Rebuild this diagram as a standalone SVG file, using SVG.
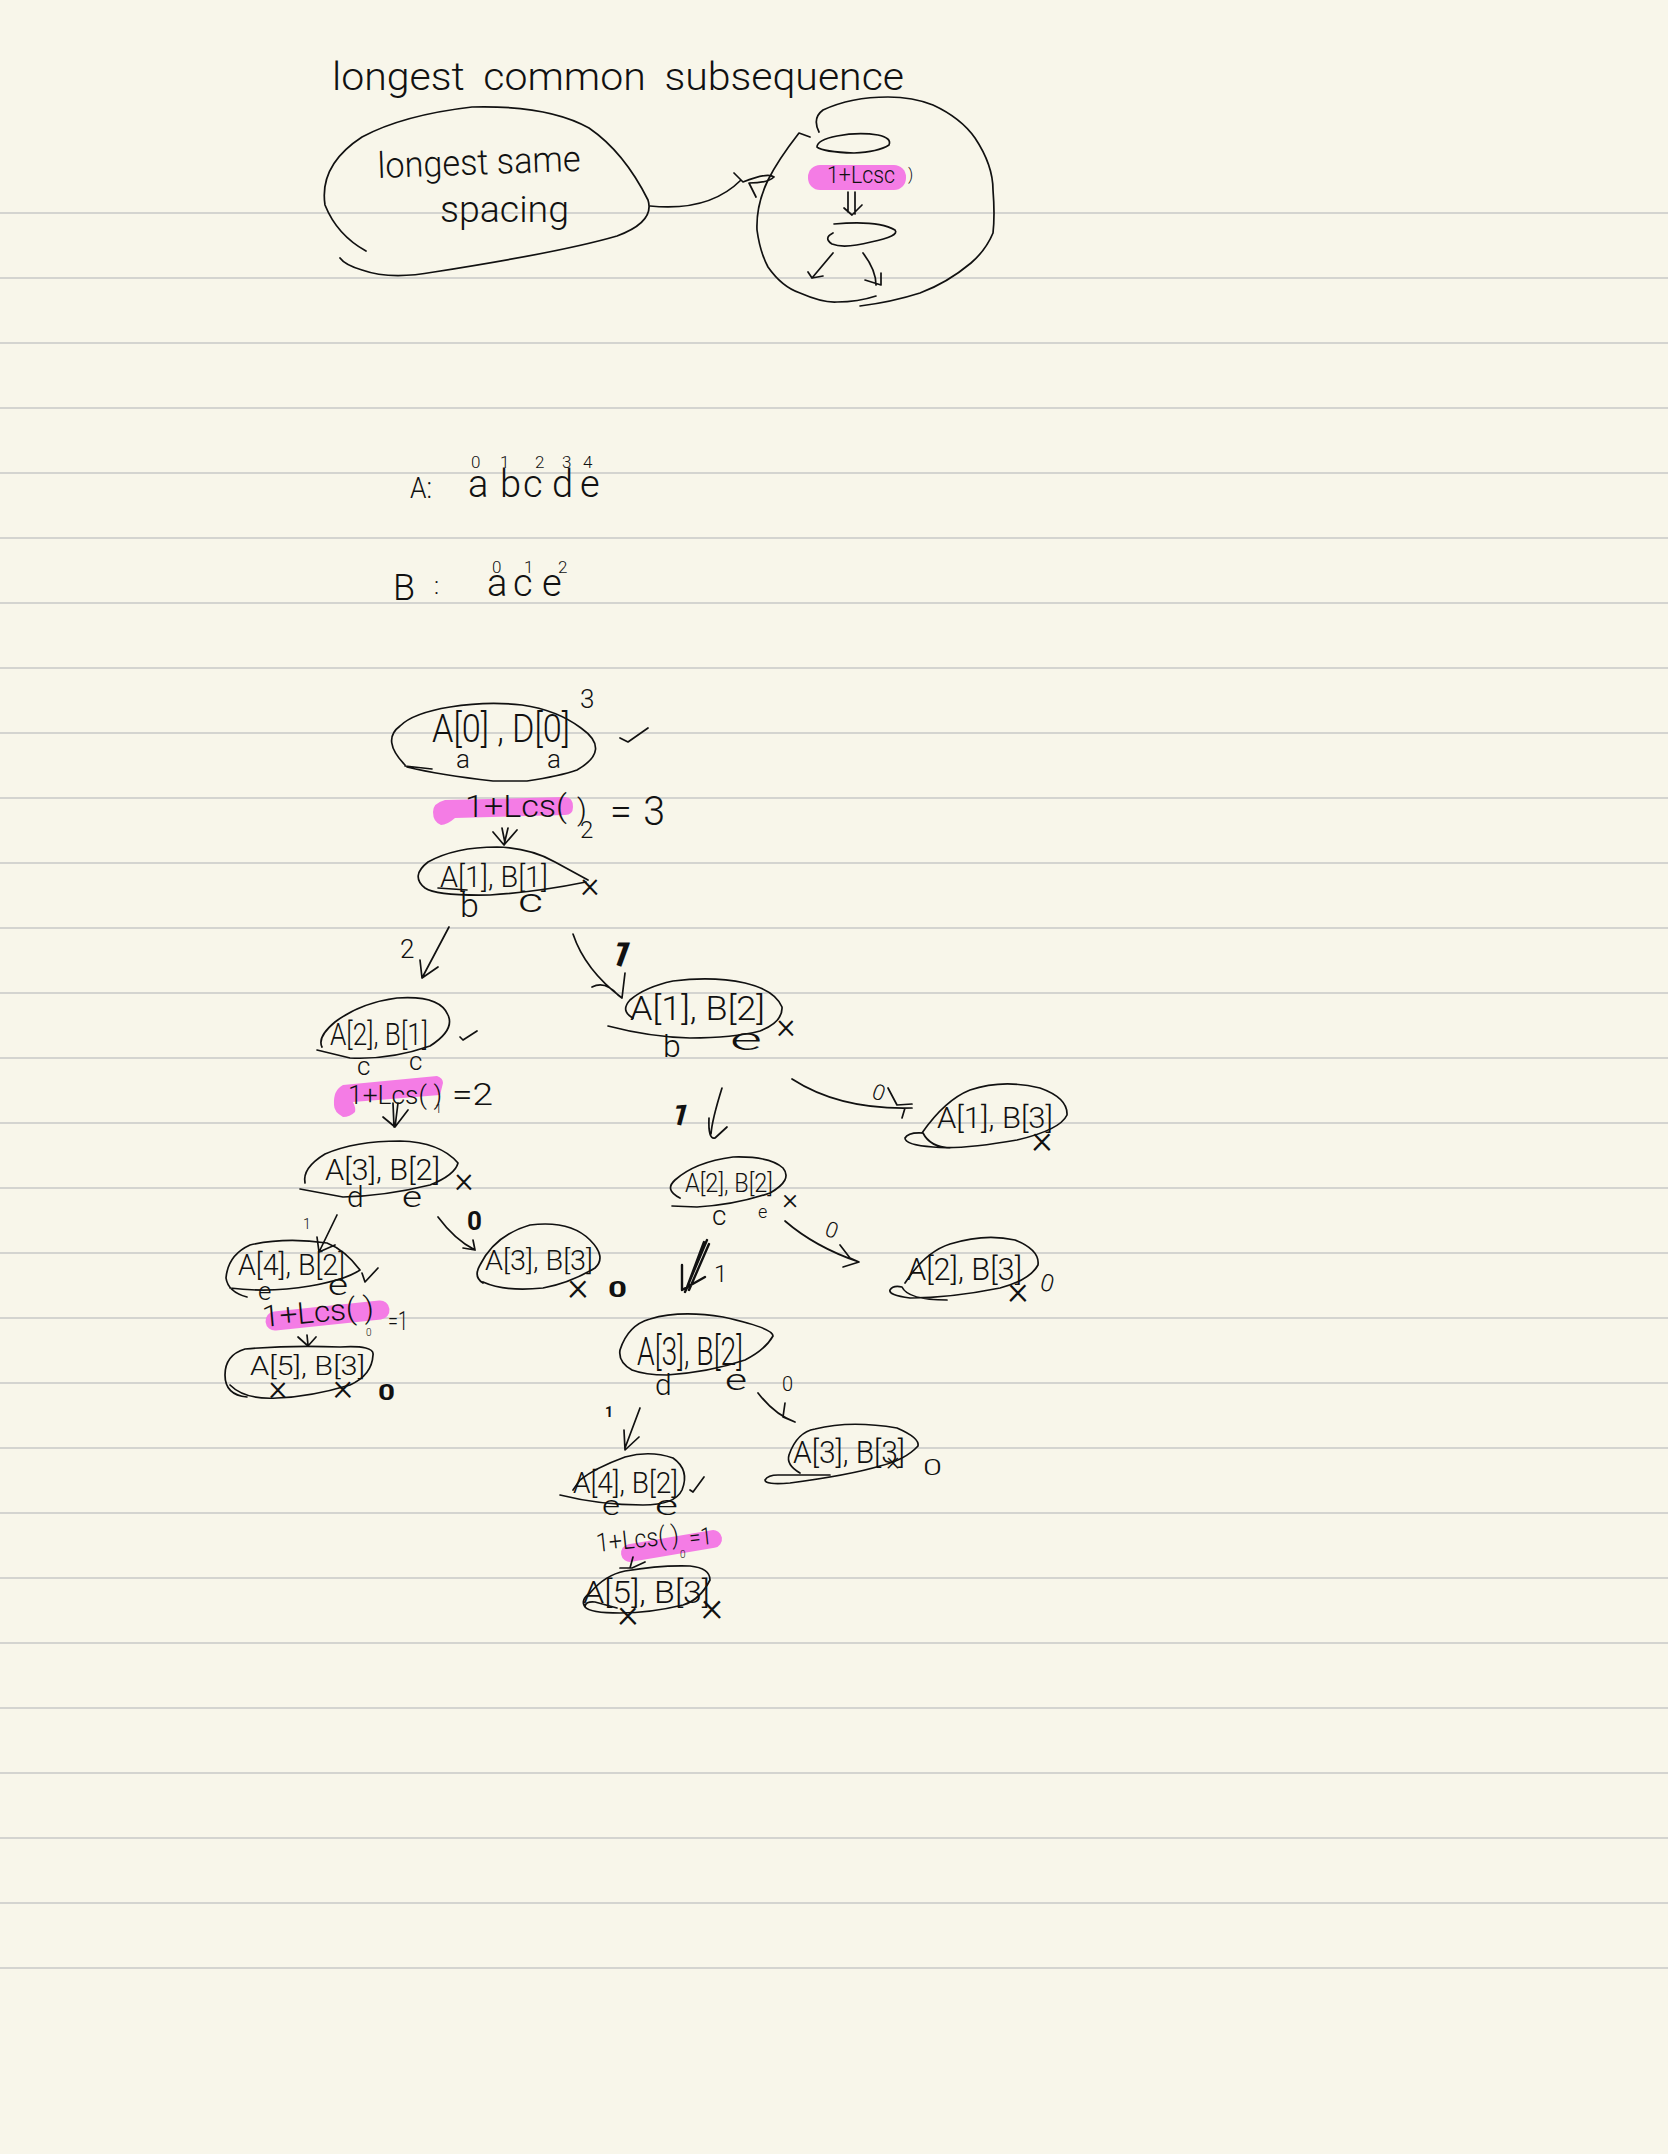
<svg xmlns="http://www.w3.org/2000/svg" width="1668" height="2154" viewBox="0 0 1668 2154">
<defs>
<style>
.s{fill:none;stroke:#111;stroke-width:1.7;stroke-linecap:round;stroke-linejoin:round}
.h{fill:none;stroke:#F47CE5;stroke-linecap:round}
.p{fill:#F47CE5}
.l{stroke:#D4D4D0;stroke-width:2}
text{font-family:"Roboto","Liberation Sans",sans-serif;font-weight:300;fill:#111}
.b{font-weight:700}
</style>
</defs>
<rect width="1668" height="2154" fill="#F8F6EA"/>
<g id="ruled-lines" class="l">
<path d="M0 213H1668M0 278H1668M0 343H1668M0 408H1668M0 473H1668M0 538H1668M0 603H1668M0 668H1668M0 733H1668M0 798H1668M0 863H1668M0 928H1668M0 993H1668M0 1058H1668M0 1123H1668M0 1188H1668M0 1253H1668M0 1318H1668M0 1383H1668M0 1448H1668M0 1513H1668M0 1578H1668M0 1643H1668M0 1708H1668M0 1773H1668M0 1838H1668M0 1903H1668M0 1968H1668"/>
</g>
<g id="highlights">
<rect class="p" x="808" y="165" width="98" height="25" rx="12"/>
<path class="p" d="M445 800L565 797Q573 797 573 807Q573 815 565 815L455 818Q447 825 441 825Q433 822 433 812Q433 803 445 800Z"/>
<path class="p" d="M343 1085L437 1076Q443 1078 443 1083L440 1095L353 1102Q356 1108 355 1112Q350 1117 343 1117Q334 1112 334 1105Q333 1090 343 1085Z"/>
<path class="h" stroke-width="19" d="M275 1321L380 1310"/>
<path class="h" stroke-width="18" d="M630 1553L713 1539"/>
</g>
<g id="connectors" class="s">
<path d="M650 206Q709 212 741 180M734 173L743 182Q768 172 774 177Q768 183 749 183L756 197"/>
<path d="M848 192V212M855 192V214M844 208L852 215L862 205"/>
<path d="M833 253L812 278M808 272L812 278L823 276"/>
<path d="M863 253Q876 270 876 285M881 273V285L865 280"/>
<path d="M502 828L505 843M508 828L504 845M493 832L504 845L517 830"/>
<path d="M449 927L422 978M420 960L422 978L438 967"/>
<path d="M573 934Q585 970 622 998M592 987Q605 980 618 995L622 998L625 973"/>
<path d="M722 1088Q712 1120 711 1134M709 1118Q708 1140 715 1138L727 1127"/>
<path d="M792 1079Q840 1110 912 1108M888 1088L897 1105L912 1104M902 1118L905 1108"/>
<path d="M393 1103L394 1127M398 1103L395 1127M383 1117L395 1127L408 1110"/>
<path d="M337 1215L320 1250M317 1237L319 1252L335 1245"/>
<path d="M438 1217Q455 1240 475 1250M473 1240L475 1250L463 1248"/>
<path d="M307 1335L308 1345M298 1337L308 1346L316 1337"/>
<path d="M707 1240L685 1292M704 1242L686 1290M709 1244L689 1290M701 1250L687 1288M682 1265L682 1290L705 1277" stroke-width="2.4"/>
<path d="M785 1221Q815 1247 859 1262M840 1245L850 1258L859 1262L843 1267"/>
<path d="M640 1408L625 1448M624 1430L625 1450L639 1437"/>
<path d="M758 1393Q775 1415 795 1422M785 1403L783 1417L795 1422"/>
<path d="M633 1557L630 1568M620 1568L632 1568L645 1562"/>
</g>
<g id="title"><text x="332" y="90" font-size="38" word-spacing="8" textLength="572" lengthAdjust="spacingAndGlyphs">longest common subsequence</text></g>
<g id="concept-blob">
<path class="s" d="M366 251Q337 235 325 205Q319 165 362 137Q403 115 472 107Q548 105 589 128Q624 152 648 200Q655 222 617 236Q562 252 434 272Q390 280 362 270Q345 265 340 258"/>
<text transform="rotate(-2 378 178)" x="378" y="178" font-size="36" textLength="203" lengthAdjust="spacingAndGlyphs">longest same</text>
<text x="440" y="222" font-size="36" textLength="129" lengthAdjust="spacingAndGlyphs">spacing</text>
</g>
<g id="concept-tree">
<path class="s" d="M810 137L799 133Q778 160 768 180Q756 205 757 230Q760 252 768 267Q782 287 800 293Q823 303 837 302Q858 302 876 296"/>
<path class="s" d="M819 132Q812 118 823 110Q851 97 888 97Q913 97 933 105Q961 118 975 138Q993 165 993 190Q995 215 993 233Q986 250 971 263Q947 283 920 293Q892 302 860 306"/>
<path class="s" d="M837 136Q858 132 878 135Q892 138 889 145Q878 152 854 153Q823 152 817 147Q817 140 837 136"/>
<path class="s" d="M834 224Q878 220 895 230Q900 236 871 242Q844 249 832 244Q823 238 833 233"/>
<text x="827" y="183" font-size="24" textLength="68" lengthAdjust="spacingAndGlyphs">1+Lcsc</text>
<text x="908" y="180" font-size="16">)</text>
</g>
<g id="array-a">
<text x="410" y="498" font-size="30" textLength="22" lengthAdjust="spacingAndGlyphs">A:</text>
<text x="468 500 523 552 580" y="497" font-size="38">abcde</text>
<text x="471 500 535 562 583" y="468" font-size="17">01234</text>
</g>
<g id="array-b">
<text x="393" y="600" font-size="36">B</text>
<text x="434" y="594" font-size="24">:</text>
<text x="487 513 542" y="596" font-size="38">ace</text>
<text x="492 524 558" y="573" font-size="17">012</text>
</g>
<g id="node-a0-b0">
<path class="s" d="M405 765Q381 740 400 726Q413 713 450 707Q487 701 522 705Q557 710 581 728Q612 750 577 770Q560 776 527 781L493 781Q440 775 407 767M405 766L432 769"/>
<text x="432" y="742" font-size="38" textLength="138" lengthAdjust="spacingAndGlyphs">A[0] , D[0]</text>
<text x="456 547" y="768" font-size="26">aa</text>
<text x="580" y="708" font-size="26">3</text>
<path class="s" d="M620 738L628 742L648 728"/>
<text x="465" y="817" font-size="32" textLength="102" lengthAdjust="spacingAndGlyphs">1+Lcs(</text>
<text x="577" y="820" font-size="30">)</text>
<text x="610" y="825" font-size="40" word-spacing="2" textLength="55" lengthAdjust="spacingAndGlyphs">= 3</text>
<text x="580" y="838" font-size="24">2</text>
</g>
<g id="node-a1-b1">
<path class="s" d="M586 882Q537 892 490 895Q437 896 425 888Q410 876 428 862Q455 847 497 847Q530 848 555 862L588 880M438 888L467 890"/>
<text x="440" y="887" font-size="30" textLength="108" lengthAdjust="spacingAndGlyphs">A[1], B[1]</text>
<text x="460" y="917" font-size="34">b</text>
<text x="518" y="912" font-size="34" textLength="25" lengthAdjust="spacingAndGlyphs">c</text>
<text x="590" y="897" font-size="36" text-anchor="middle">×</text>
<text x="400" y="958" font-size="26">2</text>
<text transform="rotate(20 608 962)" x="608" y="962" font-size="36" class="b">1</text>
</g>
<g id="node-a1-b2">
<path class="s" d="M608 1026Q650 1037 690 1038Q733 1038 760 1031Q783 1022 782 1007Q775 990 745 983Q713 976 673 981Q645 987 630 1000Q620 1011 633 1018"/>
<text x="630" y="1020" font-size="34" textLength="135" lengthAdjust="spacingAndGlyphs">A[1], B[2]</text>
<text x="663" y="1057" font-size="32">b</text>
<text x="730" y="1050" font-size="32" textLength="32" lengthAdjust="spacingAndGlyphs">e</text>
<text x="786" y="1038" font-size="36" text-anchor="middle">×</text>
<text x="672" y="1125" font-size="30" class="b" transform="rotate(15 680 1115)">1</text>
<text transform="rotate(20 877 1100)" x="870" y="1100" font-size="22">0</text>
</g>
<g id="node-a1-b3">
<path class="s" d="M922 1133Q945 1100 970 1090Q1003 1079 1040 1088Q1068 1098 1067 1115Q1060 1130 1017 1140Q960 1150 933 1147Q905 1145 905 1138Q908 1132 923 1133Q930 1147 950 1148"/>
<text x="937" y="1128" font-size="30" textLength="116" lengthAdjust="spacingAndGlyphs">A[1], B[3]</text>
<text x="1042" y="1153" font-size="40" text-anchor="middle">×</text>
</g>
<g id="node-a2-b2">
<path class="s" d="M680 1198Q664 1190 675 1180Q695 1162 733 1157Q770 1156 783 1168Q793 1180 770 1193Q735 1205 697 1207L672 1206"/>
<text x="685" y="1192" font-size="26" textLength="88" lengthAdjust="spacingAndGlyphs">A[2], B[2]</text>
<text x="712" y="1225" font-size="28">c</text>
<text x="758" y="1218" font-size="18">e</text>
<text x="790" y="1209" font-size="30" text-anchor="middle">×</text>
<text x="714" y="1282" font-size="24">1</text>
<text transform="rotate(20 833 1232)" x="825" y="1238" font-size="22">0</text>
</g>
<g id="node-a2-b3">
<path class="s" d="M905 1283Q925 1252 950 1244Q985 1233 1015 1240Q1040 1250 1038 1265Q1030 1280 1000 1288Q950 1298 910 1298Q888 1295 890 1290Q893 1285 902 1287Q908 1300 947 1300"/>
<text x="907" y="1280" font-size="32" textLength="115" lengthAdjust="spacingAndGlyphs">A[2], B[3]</text>
<text x="1018" y="1304" font-size="40" text-anchor="middle">×</text>
<text transform="rotate(15 1046 1285)" x="1040" y="1291" font-size="24">0</text>
</g>
<g id="node-a3-b2">
<path class="s" d="M632 1370Q618 1362 620 1350Q628 1325 650 1319Q680 1310 723 1317Q773 1328 773 1336Q765 1350 745 1360Q710 1372 667 1375Q645 1375 632 1370"/>
<text x="637" y="1365" font-size="38" textLength="106" lengthAdjust="spacingAndGlyphs">A[3], B[2]</text>
<text x="655" y="1395" font-size="30">d</text>
<text x="725" y="1390" font-size="30" textLength="22" lengthAdjust="spacingAndGlyphs">e</text>
<text x="782" y="1391" font-size="20">0</text>
<text x="605" y="1417" font-size="14" class="b">1</text>
</g>
<g id="node-a3-b3-right">
<path class="s" d="M800 1473Q786 1465 789 1455Q797 1432 815 1429Q850 1420 897 1428Q920 1438 918 1446Q905 1460 880 1466Q850 1475 790 1483Q765 1485 765 1480Q768 1475 778 1475L830 1475"/>
<text x="793" y="1463" font-size="32" textLength="112" lengthAdjust="spacingAndGlyphs">A[3], B[3]</text>
<text x="893" y="1470" font-size="26" text-anchor="middle">×</text>
<text x="923" y="1475" font-size="22" textLength="19" lengthAdjust="spacingAndGlyphs">0</text>
</g>
<g id="node-a4-b2-right">
<path class="s" d="M560 1495Q600 1505 643 1505Q675 1505 682 1490Q690 1470 673 1458Q650 1450 625 1457Q595 1468 580 1480L573 1490"/>
<text x="573" y="1493" font-size="30" textLength="105" lengthAdjust="spacingAndGlyphs">A[4], B[2]</text>
<text x="602" y="1515" font-size="28" textLength="18" lengthAdjust="spacingAndGlyphs">e</text>
<text x="655" y="1515" font-size="28" textLength="23" lengthAdjust="spacingAndGlyphs">e</text>
<path class="s" d="M690 1490L693 1492L704 1477"/>
<g transform="rotate(-6 597 1552)">
<text x="597" y="1552" font-size="26" textLength="83" lengthAdjust="spacingAndGlyphs">1+Lcs( )</text>
<text x="690" y="1556" font-size="24" textLength="23" lengthAdjust="spacingAndGlyphs">=1</text>
</g>
<text x="680" y="1558" font-size="10">0</text>
</g>
<g id="node-a5-b3-right">
<path class="s" d="M585 1607Q580 1600 590 1593Q605 1575 625 1571Q660 1565 690 1566Q710 1568 710 1580Q700 1600 683 1605Q650 1613 620 1613Q590 1613 585 1607Q585 1601 595 1602L617 1608"/>
<text x="583" y="1603" font-size="32" textLength="127" lengthAdjust="spacingAndGlyphs">A[5], B[3]</text>
<text x="628" y="1627" font-size="40" text-anchor="middle">×</text>
<text x="712" y="1621" font-size="42" text-anchor="middle">×</text>
</g>
<g id="node-a2-b1">
<path class="s" d="M322 1047Q317 1037 335 1022Q360 1003 397 998Q440 995 448 1015Q455 1030 430 1046Q390 1060 350 1058L317 1050"/>
<text x="330" y="1045" font-size="32" textLength="98" lengthAdjust="spacingAndGlyphs">A[2], B[1]</text>
<text x="357" y="1075" font-size="26">c</text>
<text x="409" y="1070" font-size="26">c</text>
<path class="s" d="M460 1037L463 1040L477 1031"/>
<text x="348" y="1104" font-size="26" textLength="94" lengthAdjust="spacingAndGlyphs">1+Lcs( )</text>
<text x="452" y="1105" font-size="32" textLength="41" lengthAdjust="spacingAndGlyphs">=2</text>
<text x="435" y="1113" font-size="12">1</text>
</g>
<g id="node-a3-b2-left">
<path class="s" d="M305 1183Q302 1168 325 1154Q355 1141 400 1141Q440 1142 458 1163Q455 1175 430 1185Q385 1196 343 1197L300 1189"/>
<text x="325" y="1180" font-size="30" textLength="115" lengthAdjust="spacingAndGlyphs">A[3], B[2]</text>
<text x="347" y="1207" font-size="30">d</text>
<text x="402" y="1207" font-size="30" textLength="20" lengthAdjust="spacingAndGlyphs">e</text>
<text x="464" y="1192" font-size="36" text-anchor="middle">×</text>
<text x="303" y="1229" font-size="14">1</text>
<text x="467" y="1230" font-size="26" class="b">0</text>
</g>
<g id="node-a3-b3-left">
<path class="s" d="M483 1283Q473 1277 480 1265Q495 1235 530 1225Q570 1220 590 1240Q607 1257 595 1268Q570 1283 543 1288Q505 1292 483 1282"/>
<text x="485" y="1270" font-size="28" textLength="108" lengthAdjust="spacingAndGlyphs">A[3], B[3]</text>
<text x="578" y="1300" font-size="40" text-anchor="middle">×</text>
<text x="608" y="1297" font-size="22" class="b" textLength="19" lengthAdjust="spacingAndGlyphs">0</text>
</g>
<g id="node-a4-b2-left">
<path class="s" d="M247 1297Q228 1292 226 1278Q228 1255 250 1245Q285 1237 327 1243Q345 1250 360 1270Q345 1280 310 1286Q270 1293 230 1288"/>
<text x="238" y="1275" font-size="30" textLength="107" lengthAdjust="spacingAndGlyphs">A[4], B[2]</text>
<text x="258" y="1300" font-size="26">e</text>
<text x="328" y="1295" font-size="30" textLength="20" lengthAdjust="spacingAndGlyphs">e</text>
<path class="s" d="M362 1273L365 1282L378 1268"/>
<text transform="rotate(-5 263 1327)" x="263" y="1327" font-size="30" textLength="112" lengthAdjust="spacingAndGlyphs">1+Lcs( )</text>
<text x="366" y="1336" font-size="10">0</text>
<text x="388" y="1330" font-size="26" textLength="20" lengthAdjust="spacingAndGlyphs">=1</text>
</g>
<g id="node-a5-b3-left">
<path class="s" d="M247 1397Q225 1395 225 1375Q225 1355 245 1349Q290 1345 340 1347Q375 1345 373 1355Q372 1375 350 1385Q310 1397 277 1398Q245 1400 230 1385"/>
<text x="250" y="1375" font-size="26" textLength="115" lengthAdjust="spacingAndGlyphs">A[5], B[3]</text>
<text x="278" y="1400" font-size="36" text-anchor="middle">×</text>
<text x="343" y="1400" font-size="38" text-anchor="middle">×</text>
<text x="378" y="1400" font-size="22" class="b" textLength="17" lengthAdjust="spacingAndGlyphs">0</text>
</g>
</svg>
